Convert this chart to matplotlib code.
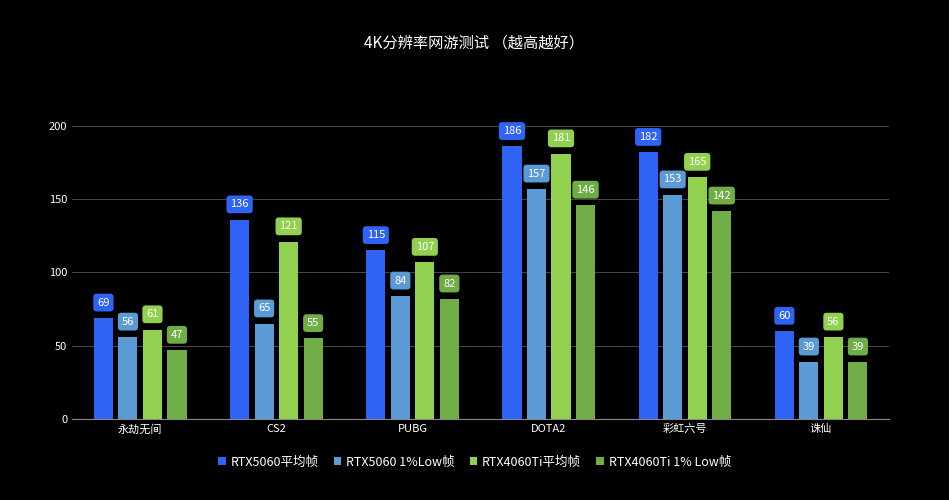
import matplotlib
matplotlib.use("Agg")
import matplotlib.pyplot as plt
import numpy as np

categories = ["永劫无间", "CS2", "PUBG", "DOTA2", "彩虹六号", "诛仙"]
series_names = ["RTX5060平均帧", "RTX5060 1%Low帧", "RTX4060Ti平均帧", "RTX4060Ti 1% Low帧"]
rtx5060_avg = [69, 136, 115, 186, 182, 60]
rtx5060_low = [56, 65, 84, 157, 153, 39]
rtx4060ti_avg = [61, 121, 107, 181, 165, 56]
rtx4060ti_low = [47, 55, 82, 146, 142, 39]
yticks = [0, 50, 100, 150, 200]

series = [rtx5060_avg, rtx5060_low, rtx4060ti_avg, rtx4060ti_low]
colors = ["#2F63F5", "#5B9BD5", "#92D050", "#70AD47"]

plt.rcParams["font.family"] = ["Noto Sans CJK SC", "DejaVu Sans"]
fig = plt.figure(figsize=(9.49, 5.0), dpi=100, facecolor="black")
ax = fig.add_axes([0.076, 0.162, 0.861, 0.645], facecolor="black")

x = np.arange(len(categories))
step = 0.18
width = 0.14
for i, (vals, c, name) in enumerate(zip(series, colors, series_names)):
    pos = x + (i - 1.5) * step
    ax.bar(pos, vals, width, color=c, label=name, zorder=3)
    for p, v in zip(pos, vals):
        ax.annotate(str(v), (p, v), xytext=(0, 11), textcoords="offset points",
                    ha="center", va="center", color="white", fontsize=8,
                    bbox=dict(boxstyle="round,pad=0.35,rounding_size=0.3", fc=c, ec="none"),
                    zorder=5)

ax.set_xlim(-0.5, len(categories) - 0.5)
ax.set_ylim(0, 220)
ax.set_yticks(yticks)
ax.set_xticks(x)
ax.set_xticklabels(categories)
ax.tick_params(colors="white", labelsize=8, length=0)
ax.grid(axis="y", color="#444444", linewidth=0.8, zorder=0)
for s in ["top", "right", "left"]:
    ax.spines[s].set_visible(False)
ax.spines["bottom"].set_color("#888888")

fig.suptitle("4K分辨率网游测试 （越高越好）", color="white", fontsize=11, y=0.93)
leg = fig.legend(loc="lower center", ncol=4, frameon=False, bbox_to_anchor=(0.5, 0.04),
                 fontsize=9, handlelength=0.6, handleheight=0.6, handletextpad=0.4, columnspacing=1.2)
for t in leg.get_texts():
    t.set_color("white")

fig.savefig("out.png", dpi=100, facecolor="black")
